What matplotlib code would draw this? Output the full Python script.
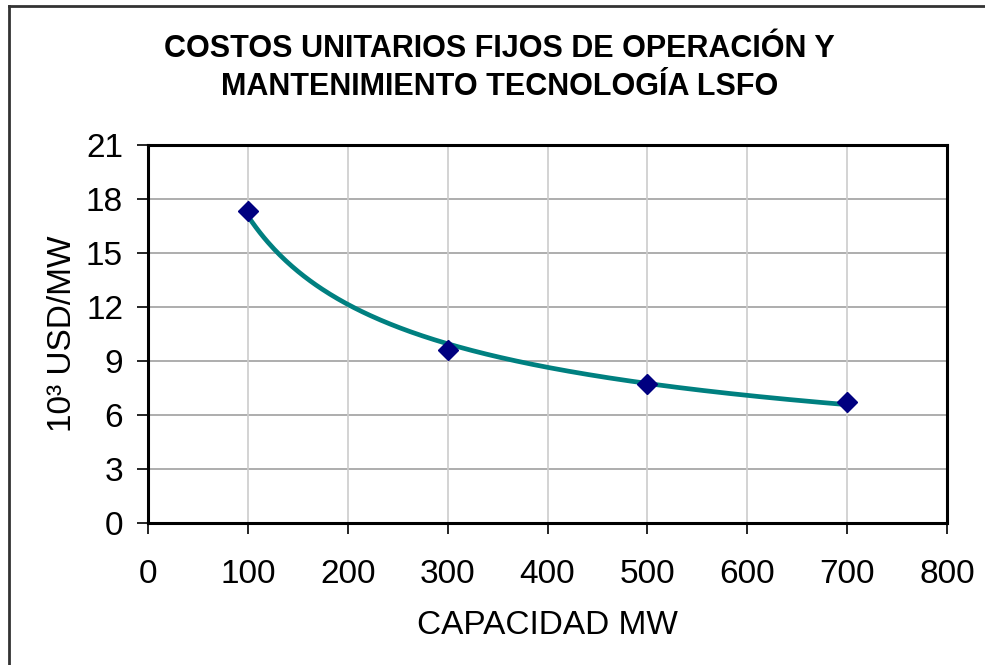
import numpy as np
import matplotlib
matplotlib.use('Agg')
import matplotlib.pyplot as plt
from matplotlib.lines import Line2D

plt.rcParams['font.family'] = ['Liberation Sans', 'DejaVu Sans']

# Data
capacidad = [100, 300, 500, 700]
costo = [17.35, 9.6, 7.7, 6.75]
x_ticks = [0, 100, 200, 300, 400, 500, 600, 700, 800]
y_ticks = [0, 3, 6, 9, 12, 15, 18, 21]

# Power trendline fitted to the points (as Excel does)
b, ln_a = np.polyfit(np.log(capacidad), np.log(costo), 1)
xs = np.linspace(min(capacidad), max(capacidad), 300)
ys = np.exp(ln_a) * xs ** b

fig = plt.figure(figsize=(9.85, 6.65), dpi=100)
ax = fig.add_axes([0.1503, 0.2135, 0.8111, 0.5685])

ax.plot(xs, ys, color='#008080', linewidth=3.4, zorder=3)
ax.plot(capacidad, costo, linestyle='none', marker='D', markersize=10,
        color='#000080', zorder=4)

ax.set_xlim(0, 800)
ax.set_ylim(0, 21)
ax.set_xticks(x_ticks)
ax.set_yticks(y_ticks)

# Gridlines: horizontal darker than vertical
for y in y_ticks[1:-1]:
    ax.axhline(y, color='#a0a0a0', linewidth=1.2, zorder=1)
for x in x_ticks[1:-1]:
    ax.axvline(x, color='#cccccc', linewidth=1.2, zorder=1)

for s in ax.spines.values():
    s.set_linewidth(2.2)
    s.set_color('black')

ax.tick_params(axis='x', direction='out', length=8, width=1.2, labelsize=24, pad=18)
ax.tick_params(axis='y', direction='out', length=8, width=1.2, labelsize=24, pad=10)

ax.set_xlabel('CAPACIDAD MW', fontsize=24, labelpad=14)
ax.set_ylabel('10³ USD/MW', fontsize=24, labelpad=6)

fig.text(0.507, 0.898, 'COSTOS UNITARIOS FIJOS DE OPERACIÓN Y\nMANTENIMIENTO TECNOLOGÍA LSFO',
         ha='center', va='center', fontsize=22, fontweight='bold', linespacing=1.35)

# Chart area border (left and top only visible)
fig.add_artist(Line2D([0.0095, 0.0095], [0, 0.991], transform=fig.transFigure,
                      color='#333333', linewidth=2))
fig.add_artist(Line2D([0.0095, 1], [0.991, 0.991], transform=fig.transFigure,
                      color='#333333', linewidth=2))

plt.savefig('out.png', dpi=100)
plt.close()
